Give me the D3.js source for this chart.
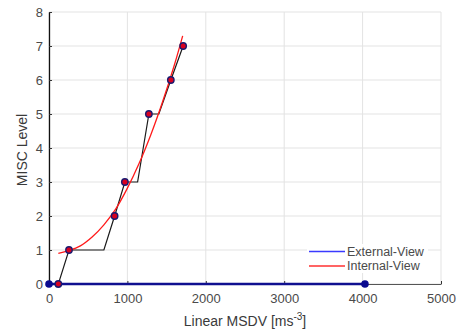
<!DOCTYPE html>
<html lang="en">
<head>
<meta charset="utf-8">
<script src="https://cdn.jsdelivr.net/npm/d3@7"></script>
<style>
    body { margin: 0; background: #fff; }
    text { font-family: "Liberation Sans", Arial, sans-serif; }
</style>
</head>
<body>
<div id="svg"></div>

<script>
    // external view: flat at zero
    var externalX = [0, 4030],
        externalY = [0, 0];

    // internal view: step path and its measured points
    var stepX = [0, 119, 255, 700, 837, 968, 1130, 1274, 1401, 1554, 1711],
        stepY = [0, 0, 1, 1, 2, 3, 3, 5, 5, 6, 7];
    var pointX = [119, 255, 837, 968, 1274, 1554, 1711],
        pointY = [0, 1, 2, 3, 5, 6, 7];

    // red fit curve
    var fitX = [119, 250, 400, 550, 700, 850, 1000, 1150, 1300, 1450, 1600, 1705],
        fitY = [0.9, 0.98, 1.12, 1.38, 1.74, 2.2, 2.82, 3.55, 4.4, 5.37, 6.45, 7.3];

    var xTicks = [0, 1000, 2000, 3000, 4000, 5000],
        yTicks = [0, 1, 2, 3, 4, 5, 6, 7, 8];

    var margin = {top: 12, right: 18, bottom: 47, left: 49},
        width = 459 - margin.left - margin.right,
        height = 331 - margin.top - margin.bottom;

    var svg = d3.select("#svg").append("svg")
        .attr("width", 459)
        .attr("height", 331);

    var g = svg.append("g")
        .attr("transform", "translate(" + margin.left + "," + margin.top + ")");

    var x = d3.scaleLinear().domain([0, 5000]).range([0, width]);
    var y = d3.scaleLinear().domain([0, 8]).range([height, 0]);

    // grid
    g.selectAll(".gx").data(xTicks).enter().append("line")
        .attr("x1", function(d){ return x(d); })
        .attr("x2", function(d){ return x(d); })
        .attr("y1", 0).attr("y2", height)
        .style("stroke", "#e3e3e3").style("stroke-width", 1);
    g.selectAll(".gy").data(yTicks).enter().append("line")
        .attr("y1", function(d){ return y(d); })
        .attr("y2", function(d){ return y(d); })
        .attr("x1", 0).attr("x2", width)
        .style("stroke", "#e3e3e3").style("stroke-width", 1);

    // axes
    var xAxis = g.append("g")
        .attr("transform", "translate(0," + height + ")")
        .call(d3.axisBottom(x).tickValues(xTicks).tickFormat(d3.format("d"))
            .tickSizeInner(-3).tickSizeOuter(0).tickPadding(10));
    var yAxis = g.append("g")
        .call(d3.axisLeft(y).tickValues(yTicks).tickFormat(d3.format("d"))
            .tickSizeInner(-3).tickSizeOuter(0).tickPadding(6));

    [xAxis, yAxis].forEach(function(a){
        a.selectAll("text").style("font-size", "13px").style("fill", "#4a4a4a")
            .style("font-family", "'Liberation Sans', Arial, sans-serif");
        a.selectAll("line").style("stroke", "#333");
    });
    xAxis.select(".domain").style("stroke", "#555").style("stroke-width", 1.2);
    yAxis.select(".domain").style("stroke", "#111").style("stroke-width", 1.3);

    var line = d3.line()
        .x(function(d){ return x(d[0]); })
        .y(function(d){ return y(d[1]); });

    // black step path
    g.append("path")
        .datum(d3.zip(stepX, stepY))
        .attr("d", line)
        .style("fill", "none").style("stroke", "#1a1a1a").style("stroke-width", 1.2);

    // red fit
    g.append("path")
        .datum(d3.zip(fitX, fitY))
        .attr("d", line.curve(d3.curveCatmullRom))
        .style("fill", "none").style("stroke", "#ff1a1a").style("stroke-width", 1.3);
    line.curve(d3.curveLinear);

    // external view line
    g.append("path")
        .datum(d3.zip(externalX, externalY))
        .attr("d", line)
        .style("fill", "none").style("stroke", "#101090").style("stroke-width", 2.6);

    g.selectAll(".ext").data(d3.zip(externalX, externalY)).enter().append("circle")
        .attr("cx", function(d){ return x(d[0]); })
        .attr("cy", function(d){ return y(d[1]); })
        .attr("r", 3.8)
        .style("fill", "#0a0a90");

    g.selectAll(".int").data(d3.zip(pointX, pointY)).enter().append("circle")
        .attr("cx", function(d){ return x(d[0]); })
        .attr("cy", function(d){ return y(d[1]); })
        .attr("r", 3.2)
        .style("fill", "#d80020")
        .style("stroke", "#1a1a70")
        .style("stroke-width", 1.4);

    // legend
    var legend = svg.append("g").attr("transform", "translate(307,244)");
    legend.append("rect").attr("width", 121).attr("height", 29).style("fill", "#fff");
    var items = [["External-View", "#3a3aff"], ["Internal-View", "#ff3030"]];
    items.forEach(function(it, i){
        var yy = 7.5 + i * 14.5;
        legend.append("line")
            .attr("x1", 2).attr("x2", 38).attr("y1", yy).attr("y2", yy)
            .style("stroke", it[1]).style("stroke-width", 1.3);
        legend.append("text")
            .attr("x", 40).attr("y", yy).attr("dy", "0.35em")
            .style("font-size", "12.5px").style("fill", "#4a4a4a")
            .text(it[0]);
    });

    // axis labels
    var xl = svg.append("text")
        .attr("x", margin.left + width / 2).attr("y", 326)
        .attr("text-anchor", "middle")
        .style("font-size", "14px").style("fill", "#3a3a3a");
    xl.append("tspan").text("Linear MSDV [ms");
    xl.append("tspan").attr("dy", -6).style("font-size", "10px").text("-3");
    xl.append("tspan").attr("dy", 6).text("]");

    svg.append("text")
        .attr("transform", "translate(27," + (margin.top + height / 2 + 2) + ") rotate(-90)")
        .attr("text-anchor", "middle")
        .style("font-size", "14px").style("fill", "#3a3a3a")
        .text("MISC Level");
</script>
</body>
</html>
